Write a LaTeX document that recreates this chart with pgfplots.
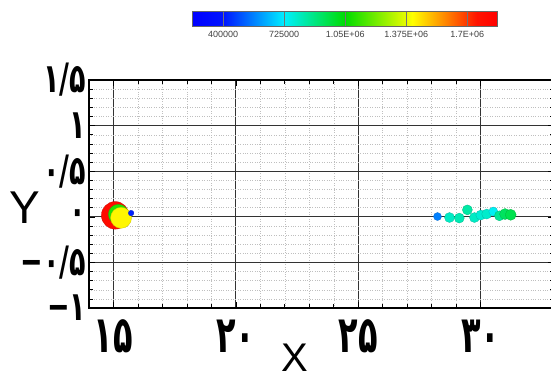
\documentclass[border=0pt]{standalone}
\usepackage{pgfplots}
\pgfplotsset{compat=1.18}
\usepackage{fontspec}
\setmainfont{Liberation Sans}
\newfontfamily\pfont{DejaVu Sans}
\pgfplotsset{colormap={tec}{[1pt] rgb255(0pt)=(0,0,255); rgb255(10pt)=(0,20,255); rgb255(30pt)=(0,240,255); rgb255(50pt)=(0,220,0); rgb255(72pt)=(255,255,0); rgb255(93pt)=(255,20,0); rgb255(100pt)=(255,0,0)}}
\begin{document}
\begin{tikzpicture}
\useasboundingbox (0,0) rectangle (551pt,378pt);
\clip (0,0) rectangle (551pt,378pt);
\begin{axis}[
  at={(89pt,70pt)}, anchor=south west,
  scale only axis, width=465pt, height=228pt,
  xmin=14, xmax=33, ymin=-1, ymax=1.5,
  xtick={15,20,25,30},
  xticklabels={۱۵,۲۰,۲۵,۳۰},
  ytick={-1,-0.5,0,0.5,1,1.5},
  yticklabels={−۱,−۰/۵,۰,۰/۵,۱,۱/۵},
  minor x tick num=4, minor y tick num=4,
  grid=both,
  major grid style={black!80, line width=0.7pt},
  minor grid style={gray!50, dotted, line width=0.4pt},
  axis line style={black, line width=1.2pt},
  tick align=inside, major tick length=6pt, minor tick length=4pt,
  tick style={black, line width=0.6pt},
  xticklabel style={font=\pfont\bfseries\fontsize{32}{32}\selectfont, yscale=1.6, inner sep=0pt, yshift=-7pt},
  yticklabel style={font=\pfont\bfseries\fontsize{27}{27}\selectfont, yscale=1.5, inner sep=0pt, xshift=-2.5pt},
  xlabel={X}, ylabel={Y},
  xlabel style={font=\fontsize{40}{40}\selectfont, at={(axis description cs:0.443,-0.155)}, anchor=north, inner sep=0pt},
  ylabel style={font=\fontsize{46}{46}\selectfont, rotate=-90, at={(axis description cs:-0.138,0.51)}, anchor=north, inner sep=0pt},
  colormap name=tec, point meta min=237500, point meta max=1862500,
  colorbar horizontal,
  colorbar style={
    at={(0.223,1.237)}, anchor=south west,
    scale only axis, width=305pt, height=15pt,
    scaled x ticks=false,
    xtick={400000,725000,1050000,1375000,1700000},
    xticklabels={400000,725000,1.05E+06,1.375E+06,1.7E+06},
    xticklabel style={font=\fontsize{9}{9}\selectfont, text=black!75, inner sep=0pt, yshift=-5pt},
    tick align=inside, major tick length=15pt,
    xtick style={black!55, line width=0.5pt},
    axis line style={black!60, line width=0.5pt},
  },
]
\addplot[scatter, only marks, mark=*, scatter src=explicit,
  visualization depends on={\thisrow{s} \as \msize},
  scatter/use mapped color={draw=mapped color!80!black, fill=mapped color, line width=0.3pt},
  scatter/@pre marker code/.append style={/tikz/mark size=\msize pt}]
  table[x=x, y=y, meta=v] {
x y v s
15.07 0.016 1800000 13.8
15.20 0.027 1100000 10
15.31 -0.011 1420000 10.5
15.72 0.041 420000 2.8
28.24 0.003 560000 4
28.73 -0.008 800000 5
29.13 -0.014 820000 5
29.46 0.076 840000 5
29.75 -0.008 800000 5
30.01 0.019 780000 5
30.25 0.030 790000 5
30.52 0.058 740000 4.5
30.77 0.011 860000 5
31.00 0.030 930000 5.5
31.23 0.022 950000 5.5
};
\end{axis}
\end{tikzpicture}
\end{document}
